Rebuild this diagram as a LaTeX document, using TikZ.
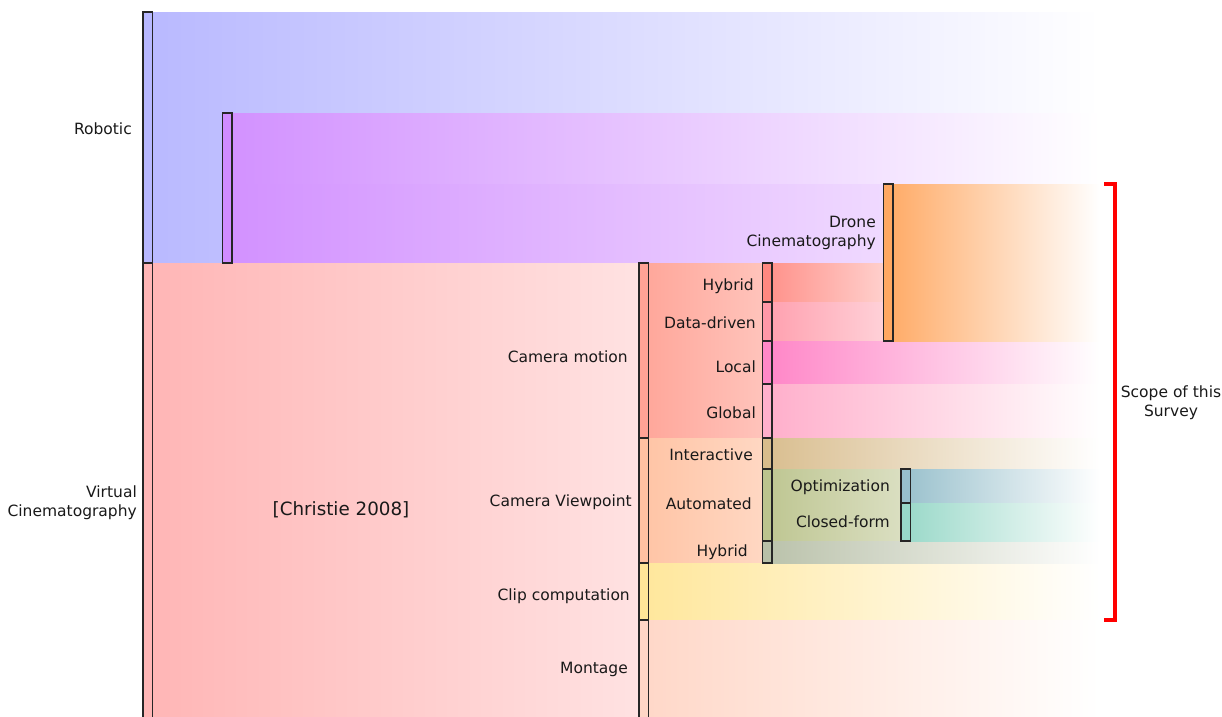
\documentclass[tikz,border=0pt]{standalone}
\usepackage{fontspec}
\setmainfont{DejaVu Sans}
\definecolor{cRob}{HTML}{B8B8FF}
\definecolor{cRobP}{HTML}{D08CFF}
\definecolor{cVC}{HTML}{FFB6B6}
\definecolor{cCM}{HTML}{FFA396}
\definecolor{cCV}{HTML}{FFC2A2}
\definecolor{cClip}{HTML}{FFE698}
\definecolor{cMont}{HTML}{FFD6C6}
\definecolor{cHyb}{HTML}{FF8880}
\definecolor{cDD}{HTML}{FF98A8}
\definecolor{cLoc}{HTML}{FF88C8}
\definecolor{cGlob}{HTML}{FFB0CC}
\definecolor{cInt}{HTML}{D8BC8C}
\definecolor{cAuto}{HTML}{BCC48E}
\definecolor{cHyb2}{HTML}{B8C0A8}
\definecolor{cOpt}{HTML}{98C0CC}
\definecolor{cCF}{HTML}{98D8C8}
\definecolor{cDrone}{HTML}{FFA862}
\newcommand{\labfont}{\fontsize{15.5}{19}\selectfont}
\begin{document}
\begin{tikzpicture}[x=1pt,y=-1pt,
  bar/.style={draw=black!85, line width=1.8pt, inner sep=0pt, outer sep=0pt,
    minimum width=9.5pt, anchor=north west},
  lab/.style={anchor=east, inner sep=0pt, font=\labfont, align=right, text=black!90},
  flow/.style={draw=none}]
\useasboundingbox (0,0) rectangle (1222,716);
\coordinate (fade) at (1100,0);
\path
  node[bar, minimum height=251pt] (rob) at (143,12) {}
  node[bar, minimum height=455pt] (vc) at (143,263) {}
  node[bar, minimum height=150pt] (robp) at (222.5,113) {}
  node[bar, minimum height=157pt] (drone) at (883.5,184) {}
  node[bar, minimum height=175pt] (cm) at (639,263) {}
  node[bar, minimum height=125pt] (cv) at (639,438) {}
  node[bar, minimum height=57pt] (clip) at (639,563) {}
  node[bar, minimum height=98pt] (mont) at (639,620) {}
  node[bar, minimum height=39pt] (hyb) at (762.5,263) {}
  node[bar, minimum height=39pt] (dd) at (762.5,302) {}
  node[bar, minimum height=43pt] (loc) at (762.5,341) {}
  node[bar, minimum height=54pt] (glob) at (762.5,384) {}
  node[bar, minimum height=31pt] (int) at (762.5,438) {}
  node[bar, minimum height=72pt] (auto) at (762.5,469) {}
  node[bar, minimum height=22pt] (hybb) at (762.5,541) {}
  node[bar, minimum height=34pt] (opt) at (901,469) {}
  node[bar, minimum height=38pt] (cf) at (901,503) {};
% flows
\shade[flow, left color=cRob!98!white, right color=white] (rob.north east) rectangle (fade |- vc.north);
\shade[flow, left color=cRobP!95!white, right color=white] (robp.north east) rectangle (fade |- drone.north);
\shade[flow, left color=cRobP!95!white, right color=cRobP!33!white] (robp.east |- drone.north) rectangle (drone.west |- robp.south);
\shade[flow, left color=cVC, right color=cVC!40!white] (vc.north east) rectangle (cm.west |- mont.south);
\shade[flow, left color=cCM!95!white, right color=cCM!65!white] (cm.north east) rectangle (glob.south west);
\shade[flow, left color=cCV!95!white, right color=cCV!65!white] (cv.north east) rectangle (hybb.south west);
\shade[flow, left color=cClip!95!white, right color=white] (clip.north east) rectangle (fade |- clip.south);
\shade[flow, left color=cMont!95!white, right color=white] (mont.north east) rectangle (fade |- mont.south);
\shade[flow, left color=cHyb!90!white, right color=cHyb!40!white] (hyb.north east) rectangle (drone.west |- hyb.south);
\shade[flow, left color=cDD!90!white, right color=cDD!45!white] (dd.north east) rectangle (drone.west |- dd.south);
\shade[flow, left color=cLoc, right color=white] (loc.north east) rectangle (fade |- loc.south);
\shade[flow, left color=cGlob, right color=white] (glob.north east) rectangle (fade |- glob.south);
\shade[flow, left color=cInt!95!white, right color=white] (int.north east) rectangle (fade |- int.south);
\shade[flow, left color=cAuto!95!white, right color=cAuto!55!white] (auto.north east) rectangle (opt.west |- auto.south);
\shade[flow, left color=cHyb2!95!white, right color=white] (hybb.north east) rectangle (fade |- hybb.south);
\shade[flow, left color=cOpt!95!white, right color=white] (opt.north east) rectangle (fade |- opt.south);
\shade[flow, left color=cCF!95!white, right color=white] (cf.north east) rectangle (fade |- cf.south);
\shade[flow, left color=cDrone!95!white, right color=white] (drone.north east) rectangle (fade |- drone.south);
% bars on top
\foreach \n/\c in {rob/cRob, vc/cVC, robp/cRobP, drone/cDrone, cm/cCM, cv/cCV, clip/cClip, mont/cMont,
  hyb/cHyb, dd/cDD, loc/cLoc, glob/cGlob, int/cInt, auto/cAuto, hybb/cHyb2, opt/cOpt, cf/cCF}
  \draw[draw=black!85, line width=1.8pt, fill=\c] (\n.north west) rectangle (\n.south east);
% scope bracket
\coordinate (bt) at (1104,184);
\coordinate (bb) at (1104,620);
\draw[red, line width=3.2pt] (bt) -- ++(11,0) |- (bb);
% labels
\node[lab] (lrob) at (132,129) {Robotic};
\node[lab] (lvc) at (137,503) {Virtual\\Cinematography};
\node[anchor=center, inner sep=0pt, font=\fontsize{18.3}{22}\selectfont, text=black!90] (lchr) at (341,510) {[Christie 2008]};
\node[lab] (lcm) at (628,357) {Camera motion};
\node[lab] (lcv) at (632,502) {Camera Viewpoint};
\node[lab] (lclip) at (630,596) {Clip computation};
\node[lab] (lmont) at (628,669) {Montage};
\node[lab] (lhyb) at (754,286) {Hybrid};
\node[lab] (ldd) at (756,323) {Data-driven};
\node[lab] (lloc) at (756,367) {Local};
\node[lab] (lglob) at (756,413) {Global};
\node[lab] (lint) at (753,455) {Interactive};
\node[lab] (lauto) at (752,504) {Automated};
\node[lab] (lhybb) at (748,552) {Hybrid};
\node[lab] (lopt) at (890,487) {Optimization};
\node[lab] (lcf) at (890,522) {Closed-form};
\node[lab] (ldrone) at (876,233) {Drone\\Cinematography};
\node[inner sep=0pt, font=\labfont, align=center, text=black!90] (lscope) at (1171,403) {Scope of this\\Survey};
\end{tikzpicture}
\end{document}
